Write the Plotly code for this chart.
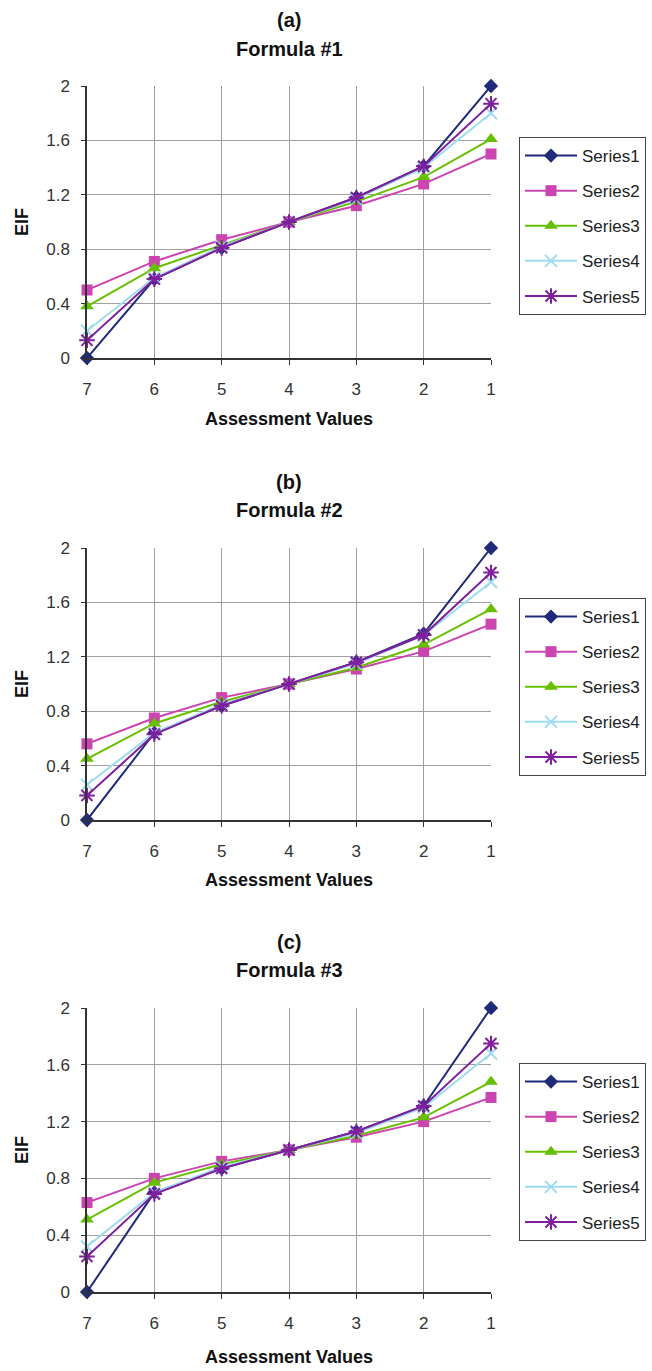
import plotly.graph_objects as go

W, H = 652, 1371

x_vals = [7, 6, 5, 4, 3, 2, 1]
x_ticks = ["7", "6", "5", "4", "3", "2", "1"]
y_ticks = [0, 0.4, 0.8, 1.2, 1.6, 2]
y_tick_text = ["0", "0.4", "0.8", "1.2", "1.6", "2"]
series_names = ["Series1", "Series2", "Series3", "Series4", "Series5"]

# Formula #1
f1_s1 = [0.00, 0.58, 0.81, 1.00, 1.18, 1.41, 2.00]
f1_s2 = [0.50, 0.71, 0.87, 1.00, 1.12, 1.28, 1.50]
f1_s3 = [0.38, 0.66, 0.83, 1.00, 1.15, 1.33, 1.61]
f1_s4 = [0.20, 0.59, 0.82, 1.00, 1.17, 1.40, 1.80]
f1_s5 = [0.13, 0.58, 0.81, 1.00, 1.18, 1.41, 1.87]

# Formula #2
f2_s1 = [0.00, 0.64, 0.84, 1.00, 1.16, 1.37, 2.00]
f2_s2 = [0.56, 0.75, 0.90, 1.00, 1.11, 1.24, 1.44]
f2_s3 = [0.45, 0.71, 0.87, 1.00, 1.12, 1.29, 1.55]
f2_s4 = [0.26, 0.64, 0.85, 1.00, 1.15, 1.36, 1.75]
f2_s5 = [0.18, 0.63, 0.84, 1.00, 1.16, 1.36, 1.82]

# Formula #3
f3_s1 = [0.00, 0.70, 0.87, 1.00, 1.13, 1.31, 2.00]
f3_s2 = [0.63, 0.80, 0.92, 1.00, 1.09, 1.20, 1.37]
f3_s3 = [0.51, 0.77, 0.90, 1.00, 1.10, 1.23, 1.48]
f3_s4 = [0.32, 0.70, 0.88, 1.00, 1.12, 1.30, 1.68]
f3_s5 = [0.25, 0.69, 0.87, 1.00, 1.13, 1.31, 1.75]

panels = [
    ("(a)", "Formula #1", [f1_s1, f1_s2, f1_s3, f1_s4, f1_s5]),
    ("(b)", "Formula #2", [f2_s1, f2_s2, f2_s3, f2_s4, f2_s5]),
    ("(c)", "Formula #3", [f3_s1, f3_s2, f3_s3, f3_s4, f3_s5]),
]

colors = ["#1f2a7a", "#cc44b0", "#66c000", "#9fdcef", "#7f1f9f"]
symbols = ["diamond", "square", "triangle-up", "x-thin-open", "asterisk-open"]
msizes = [11, 11, 12, 12, 13]

# pixel layout (top, bottom) of each plot area
plot_px = [(86, 358), (548, 820), (1008, 1292)]
legend_px = [137, 598, 1063]
title_px = [(20, 49), (482, 510), (942, 970)]
xtitle_px = [419, 880, 1357]
x0, x1 = 87, 491

FONT = "Liberation Sans, Arial, sans-serif"

def fy(p):
    return 1 - p / H

fig = go.Figure()
layout = dict(
    width=W, height=H, margin=dict(l=0, r=0, t=0, b=0, autoexpand=False),
    paper_bgcolor="white", plot_bgcolor="white",
    font=dict(family=FONT, size=17, color="#222"),
    showlegend=True,
)
annotations = []

for i, (lab, ttl, data) in enumerate(panels):
    n = "" if i == 0 else str(i + 1)
    xa, ya = "x" + n, "y" + n
    lg = "legend" + n
    for j, vals in enumerate(data):
        sym = symbols[j]
        open_sym = sym.endswith("open")
        fig.add_trace(go.Scatter(
            x=x_vals, y=vals, mode="lines+markers", name=series_names[j],
            xaxis=xa, yaxis=ya, legend=lg, legendgroup=f"g{i}{j}",
            cliponaxis=False,
            line=dict(color=colors[j], width=2),
            marker=dict(symbol=sym, size=msizes[j], color=colors[j],
                        line=dict(color=colors[j], width=2 if open_sym else 0)),
        ))
    top, bot = plot_px[i]
    layout["xaxis" + n] = dict(
        domain=[x0 / W, x1 / W], anchor=ya,
        range=[7, 1], tickmode="array", tickvals=x_vals, ticktext=x_ticks,
        showgrid=True, gridcolor="#a0a0a0", gridwidth=1,
        showline=True, linecolor="#333", linewidth=1.5, mirror=False,
        ticks="outside", ticklen=5, tickcolor="#333", ticklabelstandoff=10,
        tickfont=dict(size=17, color="#333"), zeroline=False,
    )
    layout["yaxis" + n] = dict(
        domain=[fy(bot), fy(top)], anchor=xa,
        range=[0, 2], tickmode="array", tickvals=y_ticks, ticktext=y_tick_text,
        showgrid=True, gridcolor="#a0a0a0", gridwidth=1,
        showline=True, linecolor="#333", linewidth=1.5,
        ticks="outside", ticklen=4, tickcolor="#333", ticklabelstandoff=8,
        tickfont=dict(size=17, color="#333"), zeroline=False,
    )
    layout[lg] = dict(
        x=519 / W, y=fy(legend_px[i]), xanchor="left", yanchor="top",
        bordercolor="#444", borderwidth=1, bgcolor="white",
        font=dict(size=17, color="#222", family=FONT),
        itemwidth=52, tracegroupgap=10,
    )
    # titles
    t1, t2 = title_px[i]
    cx = (x0 + x1) / 2 / W
    annotations.append(dict(text="<b>" + lab + "</b>", x=cx, y=fy(t1), xref="paper", yref="paper",
                            showarrow=False, font=dict(size=20, color="#111"), yanchor="middle"))
    annotations.append(dict(text="<b>" + ttl + "</b>", x=cx, y=fy(t2), xref="paper", yref="paper",
                            showarrow=False, font=dict(size=20, color="#111"), yanchor="middle"))
    annotations.append(dict(text="<b>Assessment Values</b>", x=cx, y=fy(xtitle_px[i]),
                            xref="paper", yref="paper", showarrow=False,
                            font=dict(size=18, color="#111"), yanchor="middle"))
    annotations.append(dict(text="<b>EIF</b>", x=22 / W, y=fy((top + bot) / 2),
                            xref="paper", yref="paper", showarrow=False, textangle=-90,
                            font=dict(size=18, color="#111"), xanchor="center", yanchor="middle"))

layout["annotations"] = annotations
fig.update_layout(**layout)
fig.write_html("out.html", config={"displayModeBar": False},
               post_script="document.body.style.margin='0';")
